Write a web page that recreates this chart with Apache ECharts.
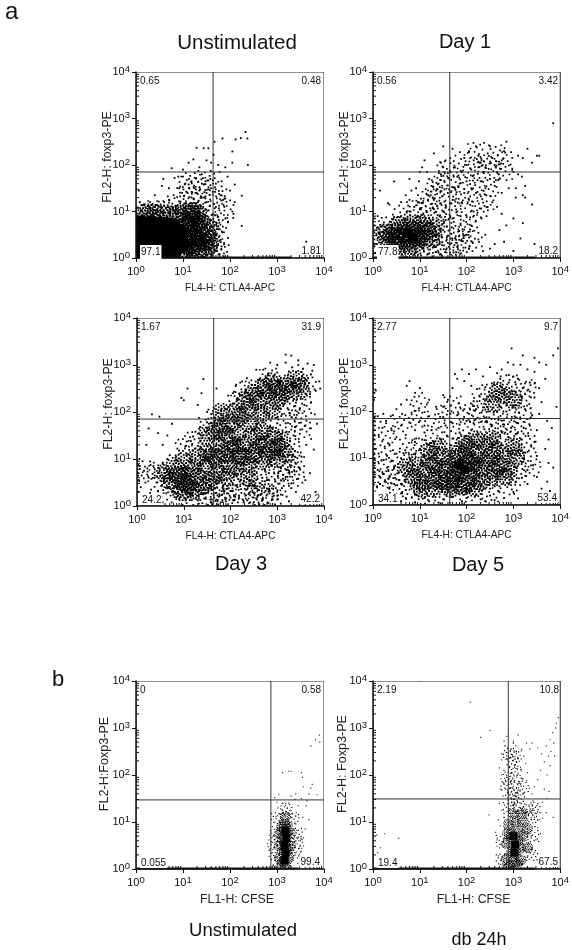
<!DOCTYPE html>
<html>
<head>
<meta charset="utf-8">
<style>html,body{margin:0;padding:0;background:#fff}#chart{width:572px;height:950px}</style>
<script src="https://cdn.jsdelivr.net/npm/echarts@6/dist/echarts.min.js"></script>
</head>
<body>
<div id="chart"></div>
<script>
// 所有坐标单位: 0.01 decade (0 = 10^0, 400 = 10^4), 格式 x,y,x,y...
const tickLabels = ['0', '1', '2', '3', '4']
const minorTicks = [30, 48, 60, 70, 78, 85, 90, 95, 130, 148, 160, 170, 178, 185, 190, 195, 230, 248, 260, 270, 278, 285, 290, 295, 330, 348, 360, 370, 378, 385, 390, 395]

const xNames = ['FL4-H: CTLA4-APC', 'FL4-H: CTLA4-APC', 'FL4-H: CTLA4-APC', 'FL4-H: CTLA4-APC', 'FL1-H: CFSE', 'FL1-H: CFSE']
const yNames = ['FL2-H: foxp3-PE', 'FL2-H: foxp3-PE', 'FL2-H: foxp3-PE', 'FL2-H: foxp3-PE', 'FL2-H:Foxp3-PE', 'FL2-H: Foxp3-PE']
const gateX = [164, 164, 164, 164, 287, 289]
const gateY = [185, 185, 185, 185, 147, 149]
const upperLeft = ['0.65', '0.56', '1.67', '2.77', '0', '2.19']
const upperRight = ['0.48', '3.42', '31.9', '9.7', '0.58', '10.8']
const lowerLeft = ['97.1', '77.8', '24.2', '34.1', '0.055', '19.4']
const lowerRight = ['1.81', '18.2', '42.2', '53.4', '99.4', '67.5']

// 堆在下边缘的事件 (x 起止)
const edgeRuns = [[0, 330], [0, 345], [0, 0], [0, 0], [0, 345], [0, 345]]

// 实心区域
const coreA = [10,12,10,38,10,70,32,12,32,38,32,70,54,10,54,38,54,68,76,14,76,40,74,66,92,30,90,52]
const coreB = [72,52,84,46]
const coreC = []
const coreD = [185,85,195,75]
const coreE = [316,18,318,34,316,50,320,66,318,82]
const coreF = [302,35,304,52,300,70]

// 一团事件的位置: 密 / 疏
const denseA = [122,30,122,60,122,85,140,20,140,45,140,70,118,100,100,100,70,96,40,96,15,96,132,95,108,70,108,45,108,22,120,15,152,50,155,25,100,15,100,40,100,60,100,80,115,30,115,55,115,75,125,45,130,20,135,55,145,35,135,80,118,95,90,95,55,98,25,98,150,65,160,35]
const sparseA = [155,35,155,60,170,25,170,50,160,85,178,75,120,125,140,130,105,135,85,115,60,105,30,105,130,155,150,170,165,150,110,165,175,130,150,105,190,110,150,10,180,10]
const denseB = [50,35,65,55,80,40,95,60,75,20,110,40,55,70,85,75,105,75,40,55,70,65,90,25,30,40,60,45,75,50,90,50,70,35,85,60,45,45,100,45,25,55,115,60,125,40,135,65,50,20]
const sparseB = [15,25,15,50,30,70,125,25,130,55,150,30,125,85,150,70,175,25,175,50,195,30,60,95,90,105,120,110,145,100,110,125,135,130,160,135,185,135,145,165,170,170,200,160,225,150,210,190,235,200,255,190,280,185,190,210,220,230,265,225,155,190,130,150,250,150,195,110,225,105,170,100,205,75,190,60,240,120,280,210,120,10,165,10,215,40]
const denseC = [200,175,220,190,240,210,260,225,280,240,300,250,320,260,340,270,300,225,330,245,230,130,250,150,270,160,290,150,270,130,250,110,290,120,310,140,220,105,240,90,270,95,300,100,80,85,100,95,120,80,95,65,110,45,130,105,60,70,70,55,150,85,170,70,150,115,175,130,190,150,200,120,195,90,130,60,160,105,215,150,240,175,265,195,190,60,180,200,210,200,230,225,250,240,270,255,290,265,310,240,350,255,290,205,150,150,165,160,180,170,170,100,190,110,210,130,230,105,260,130,280,110,300,125,320,110,240,60,210,80,100,50,85,65,115,65,140,45,120,35,95,30,160,55]
const sparseC = [150,20,175,25,200,30,225,25,250,20,275,25,130,30,100,30,85,45,200,55,230,60,260,55,300,40,320,65,340,100,355,160,170,190,150,170,120,140,215,225,250,250,350,245,365,260,355,215,325,210,345,180,320,175,40,75,55,45,20,70,100,125,150,45,170,40,330,125,290,70,225,245,280,275,70,25,115,20,190,15,240,40,265,35,290,20,310,80,330,90,340,60]
const denseD = [110,70,130,55,150,75,170,55,190,80,210,60,230,80,250,60,150,105,175,100,200,105,225,110,250,100,270,85,120,95,100,50,130,35,190,40,215,35,165,35,280,110,290,75,140,125,195,130,240,130,90,85,70,80,160,85,185,70,210,90,255,215,280,235,300,225,265,245,85,60,105,35,150,45,175,75,200,90,215,75,240,95,260,115,180,115,205,125,130,85,145,55,175,45,200,45,230,50,260,75,280,60,120,115,305,100,300,125,220,140,255,140]
const sparseD = [50,60,60,100,45,40,80,30,100,20,150,15,200,15,250,25,290,40,310,60,320,100,330,130,300,140,270,150,100,125,130,150,170,160,210,165,250,170,290,170,320,170,230,220,245,240,320,225,290,260,330,250,225,195,260,190,290,195,320,195,30,80,20,110,30,150,60,175,100,185,150,195,170,215,200,200,100,215,18,55,75,125,340,80]
const denseE = [315,15,315,35,318,55,318,75,316,95,305,25,325,25,305,50,328,50,305,75,328,75,318,110,312,65,322,42,310,88,322,90,318,8,308,8]
const sparseE = [295,30,298,70,340,35,342,75,300,108,335,108,320,128,292,55,345,55]
const denseF = [300,15,295,35,305,35,300,55,310,60,295,75,310,80,320,70,290,95,305,100,320,100,285,20,315,20,285,55,330,45,330,85,300,118,315,45,318,118,288,75,308,12,292,8]
const sparseF = [275,20,275,60,340,30,342,70,340,110,290,130,310,130,330,125,295,160,305,175,290,195,305,205,298,225,285,180,320,175,290,245,305,240,300,150,345,130,312,150]

// 单个事件
const midA = [118,85,125,72,132,60,128,40,138,30,145,50,150,72,142,88,155,38,160,58,166,25,170,48,175,68,162,12,172,15,180,34,184,55,118,20,126,10,135,15,148,8,155,20,112,12,120,100,108,96,96,95,84,98,72,94,60,98,48,92,36,96,22,94,10,100,4,108,8,120,16,90,112,78,130,96,140,78,148,104,158,80,168,92,176,82,150,120,138,112,128,118,116,112,104,108,118,130,128,140,140,130,120,5,140,4,160,4,178,8,108,6,128,28,138,48,146,20,152,90]
const dotA = [233,271,223,258,237,257,212,255,205,229,184,257,167,250,129,237,154,236,144,236,238,200,362,35,196,43,225,69,207,86,225,134,76,193,100,190,112,205,122,212,135,195,150,210,160,205,165,222,175,200,190,195,205,205,178,185,140,180,128,172,118,165,105,160,92,150,80,135,70,125,60,120,98,140,112,158,124,150,135,145,148,165,158,170,170,160,182,165,195,175,168,142,180,135,190,128,200,145,210,120,188,110,205,100,170,110,150,140,140,160,160,150,100,175,90,175,82,172,58,170,70,150,110,140,145,130,55,155,40,135,18,90,6,145,30,120,210,158,185,125,196,78,172,75,190,85,178,62,182,25]
const midB = [8,30,14,55,20,42,26,22,28,60,34,36,38,12,36,78,42,24,45,88,50,8,54,70,60,90,66,40,68,12,72,98,78,18,80,100,86,80,92,12,94,88,100,30,108,20,110,68,112,86,118,40,120,10,122,58,128,75,130,26,134,48,138,92,140,12,144,60,148,34,152,78,156,18,160,48,164,30,168,66,172,12,176,42,180,24,184,58,188,10,192,36,150,100,130,105,115,100,100,105,132,62,145,8,170,85,195,48,205,20,210,36,120,85,60,60,20,70,88,110,96,120,106,118]
const dotB = [3,10,3,25,3,40,3,55,3,70,3,85,8,65,10,90,32,118,15,145,45,165,78,170,35,115,60,120,70,135,78,125,82,145,92,150,98,165,100,185,105,195,110,210,115,185,120,170,125,155,118,135,130,125,135,145,140,160,145,180,150,195,155,210,130,225,145,205,150,240,165,215,170,235,175,195,180,175,185,160,160,140,175,150,190,185,195,215,200,200,205,230,210,190,215,210,220,240,225,220,230,205,235,185,240,195,245,225,250,240,255,215,260,200,265,185,270,170,275,210,280,230,285,250,225,195,228,205,232,210,234,200,215,178,200,165,210,150,220,140,195,140,205,125,230,165,240,150,250,170,260,155,275,140,290,150,300,185,310,220,320,215,330,235,340,205,350,220,310,180,318,175,305,150,325,155,320,135,325,130,340,115,355,220,305,130,300,85,320,75,385,290,315,42,270,60,280,35,260,30,240,50,220,80,190,120,170,125,180,100,155,108,165,90,200,88,210,70,225,40,200,50,245,110,255,120,265,110,275,95,285,70,215,100,232,85,250,20,235,15,300,15,345,30]
const midC = [300,300,318,305,332,295,345,310,355,292,365,303,375,288,340,285,280,278,300,284,315,272,325,286,335,275,345,270,352,285,362,268,372,280,262,268,278,262,292,274,305,262,318,266,328,258,338,262,348,252,358,258,366,272,380,248,245,258,258,252,272,264,285,248,296,255,308,245,318,250,326,242,334,252,342,240,350,246,358,232,370,238,232,248,246,242,258,235,270,246,282,232,294,240,304,228,314,236,322,222,332,232,340,220,350,228,362,238,225,235,240,228,252,222,264,232,276,218,288,226,300,212,312,218,324,205,336,212,348,205,358,215,215,225,228,218,240,212,252,205,266,215,280,198,296,206,310,195,326,198,340,188,205,218,218,208,232,200,246,208,258,190,272,198,286,182,300,188,318,176,338,168,190,206,204,198,216,190,228,180,242,192,256,175,270,182,285,168,300,176,320,158,180,196,194,188,208,178,222,170,236,182,250,160,265,170,280,150,295,158,310,145,335,150,165,188,178,178,190,170,205,160,218,172,232,150,246,162,262,140,278,150,292,135,308,142,325,130,150,178,162,168,175,160,188,150,200,162,214,140,228,150,242,130,256,142,270,125,286,132,300,118,316,125,332,108,135,168,150,160,165,150,180,142,192,152,206,130,220,140,234,118,248,130,262,110,276,120,290,102,304,112,320,95,340,90,125,158,140,150,155,142,170,130,184,140,196,120,210,130,224,105,238,118,252,95,266,105,280,88,294,98,308,80,325,75,120,148,135,138,150,128,165,118,178,128,192,108,206,118,218,92,232,102,246,82,260,92,274,75,288,85,302,70,318,62,345,58,115,138,130,128,145,118,160,108,174,118,188,96,200,105,214,80,228,90,240,72,254,82,268,60,282,70,296,52,312,58,330,48,105,128,120,118,135,108,150,98,165,105,180,85,194,95,208,68,222,78,236,58,250,68,264,48,278,55,292,42,310,38,90,118,108,110,125,100,140,90,155,95,170,72,185,82,198,58,212,65,226,48,240,55,254,38,268,45,284,32,300,22,70,108,85,98,100,88,115,95,130,80,145,72,160,82,175,60,190,70,205,45,220,52,235,35,250,42,265,25,282,30,300,14,65,100,78,88,90,78,102,68,114,100,126,70,140,60,155,65,170,48,185,55,200,32,215,40,232,22,250,28,268,15,290,20,55,90,66,78,76,68,86,60,96,52,106,45,116,40,128,50,142,35,156,42,170,28,185,35,200,18,218,22,236,12,255,16,48,80,60,70,70,58,80,50,90,42,100,35,110,28,120,35,132,20,146,26,160,14,175,20,190,10,208,12,228,8,250,8,45,70,58,60,68,48,78,38,88,30,98,22,108,18,118,24,130,12,144,16,158,8,172,10,60,50,70,38,80,28,92,18,104,12,65,40,75,30,88,22,100,35,114,28,130,30,148,28,165,18,182,24,196,38,210,20,226,14,240,28,258,22,275,32,300,30,330,38,320,20,290,14,325,10,350,18]
const dotC = [2,70,4,55,6,85,8,40,10,65,12,95,3,30,5,100,15,75,18,50,22,80,25,60,28,95,30,35,35,85,38,65,42,50,28,28,36,18,45,32,20,130,45,155,25,165,32,195,48,190,55,130,65,150,75,175,100,225,108,250,95,230,130,215,138,240,150,200,142,270,170,250,180,205,205,240,212,258,195,235,225,265,235,272,255,290,270,290,285,305,318,322,330,320,345,300,360,260,378,300,390,265,392,250,372,220,380,195,370,165,385,175,362,130,378,120,352,105,348,80,360,55,370,70,382,30,365,20,340,30]
const midD = [3,60,3,70,3,80,3,90,3,100,3,110,3,120,3,130,3,140,3,150,3,160,3,170,3,180,3,188,60,25,70,15,80,40,90,22,100,30,110,15,120,35,130,20,140,38,150,12,160,28,170,18,180,38,190,25,200,15,210,32,220,22,230,12,240,35,250,20,260,40,270,28,280,15,290,45,300,28,50,55,60,45,70,55,80,65,90,48,100,62,110,48,120,62,135,50,145,60,155,42,165,52,210,48,220,58,235,50,250,55,265,48,280,60,295,65,305,50,318,58,330,45,45,80,55,70,65,85,75,72,85,85,95,75,105,92,112,62,120,100,255,75,268,85,280,75,292,90,305,80,318,92,330,75,342,85,60,100,70,112,80,98,90,108,100,120,110,105,120,118,130,108,140,122,150,115,165,128,175,112,190,125,200,115,215,130,225,120,235,135,250,125,262,115,275,128,288,115,300,130,312,118,325,112,338,125,350,105,90,135,105,140,115,130,130,135,145,140,158,148,170,142,185,155,198,148,210,160,222,150,238,162,250,150,262,145,275,155,290,145,305,152,318,140,332,148,345,135,110,155,125,160,140,165,155,170,170,175,185,172,200,180,215,175,228,185,240,178,255,170,268,182,280,172,295,165,310,175,322,165,335,170,350,160,150,188,165,195,180,192,195,205,205,195,220,205,232,198,245,210,258,200,270,212,285,200,298,212,312,198,325,205,340,192,355,195,215,222,228,232,242,225,255,240,268,228,280,240,292,228,305,242,318,232,330,245,345,230,222,248,240,252,258,258,275,252,290,262,305,258,320,250,335,262,272,270,290,278,310,270,130,62,140,78,170,100,195,70,215,68,245,68,120,80,70,32,100,45,210,112,230,100,260,100,300,100,265,135,240,140,35,60,25,50,30,80,40,95,50,110,20,70,15,45,35,35,45,45,230,42,250,35,270,40,120,8,140,5,190,8,240,8]
const dotD = [8,40,10,75,12,110,15,60,18,95,22,140,25,125,30,105,35,130,12,150,20,165,28,175,40,160,50,145,60,170,70,150,80,175,90,160,100,180,110,170,120,190,130,175,140,195,150,210,10,190,16,178,28,180,38,190,22,195,50,205,62,195,72,225,60,215,80,215,72,255,78,265,90,240,105,240,100,250,120,225,115,215,135,210,150,235,160,225,170,250,175,280,180,270,190,290,195,265,205,280,210,255,220,290,235,275,250,295,265,282,275,290,288,305,300,275,315,300,330,290,345,285,355,305,345,315,320,320,296,335,300,300,325,260,345,260,355,250,368,270,370,300,385,320,395,335,360,220,372,180,392,210,375,140,382,165,368,120,375,90,385,80,372,50,360,35,378,30,2,225,3,240,6,245,130,125,350,60,20,10,30,20,50,12,60,8,260,10,310,14]
const midE = [302,12,304,30,300,50,306,66,305,84,332,20,330,40,334,58,332,76,328,92,310,106,322,106,316,115,305,100,296,25,294,45,338,35,340,60,336,85,292,8,300,4,325,4]
const dotE = [288,20,290,35,287,55,292,70,294,85,296,100,298,112,304,118,312,124,320,122,326,118,332,110,338,100,342,82,346,68,349,48,346,28,344,12,350,36,340,112,330,124,308,128,322,130,318,135,312,140,300,142,295,152,304,158,302,130,325,140,330,155,338,148,345,135,340,160,352,150,362,135,368,160,372,172,375,180,325,208,330,208,352,205,382,275,390,285,391,270,372,262,356,175,364,145,385,158,354,195,340,96,350,60,355,110,368,105,312,205,290,90,284,40,284,72,360,85]
const midF = [280,8,290,20,282,32,288,45,278,58,285,70,282,85,290,100,280,110,295,112,310,105,320,95,330,85,338,70,332,55,324,40,330,25,320,10,312,8,300,5,340,45,346,90,338,105,325,118,305,122,290,125,300,135,315,130,330,122,340,125,295,150,305,155,288,162,298,172,310,168,320,160,290,180,302,188,312,182,286,195,296,205,308,200,320,192,292,218,304,222,316,212,288,232,298,240,310,235,285,248,295,255,306,250,282,262,300,268]
const dotF = [272,10,268,28,270,45,265,62,262,78,272,92,268,105,275,125,270,140,278,155,272,170,280,180,275,200,270,215,275,232,275,245,280,272,286,282,300,272,310,285,305,262,318,255,322,240,326,225,330,205,328,188,334,172,340,160,342,145,350,135,348,118,355,105,352,88,348,62,345,35,350,20,358,75,362,108,362,142,345,175,352,190,358,210,366,170,372,150,376,165,372,200,378,220,366,228,360,245,352,258,370,262,378,275,384,290,390,300,392,310,396,322,386,268,380,250,388,240,375,240,248,115,335,255,230,280,208,355,100,400,55,65,25,75,16,45,10,35,8,72,345,110,370,120,385,110,340,268,328,268,280,210,250,295]

const panelCore = [coreA, coreB, coreC, coreD, coreE, coreF]
const panelDense = [denseA, denseB, denseC, denseD, denseE, denseF]
const panelSparse = [sparseA, sparseB, sparseC, sparseD, sparseE, sparseF]
const panelMid = [midA, midB, midC, midD, midE, midF]
const panelDot = [dotA, dotB, dotC, dotD, dotE, dotF]

const gridLeft = [136, 373, 137, 373, 136, 373]
const gridTop = [72, 72, 318, 318, 681, 681]
const gridWidth = [188, 188, 187, 188, 188, 189]
const gridHeight = [186, 186, 188, 187, 188, 188]
const coreSymbol = ['circle', 'rect', 'rect', 'rect', 'rect', 'rect']
const coreSize = [20, 8, 8, 8, 8, 8]
const denseSize = [18, 18, 18, 18, 11, 11]
const sparseSize = [18, 18, 18, 18, 12, 12]
const midSize = [1.9, 1.9, 1.9, 1.9, 1.3, 1.3]
const dotSize = [1.8, 1.8, 1.8, 1.8, 1.2, 1.2]
const dotColor = ['#000', '#000', '#000', '#000', '#333', '#333']
const yNameGap = [22, 22, 22, 22, 25, 24]

// 点团的形状 (16x16 单元内的小方块，去掉四角)
const denseCells = [3,0.5, 6,0, 9,1, 1,2.5, 4.5,2, 7.5,2.5, 10.5,3, 13,2.5, 0,5, 2.5,4.5, 6,4.5, 8.5,5, 11.5,5, 14,4.5, 1.5,7, 4,6.5, 6.5,7, 10,7, 12.5,7, 14,7.5, 0,9.5, 3,9, 5.5,9.5, 8,9, 11,9.5, 13.5,10, 1.5,11.5, 4.5,11.5, 7,11.5, 9.5,11.5, 12,12, 3,13.5, 6,14, 8.5,14]
const sparseCells = [0,1, 5,0, 11,1.5, 14.5,0, 2.5,5, 8,4, 13,6, 0,9, 6,8, 10,10, 14.5,11, 3,13, 8,14.5, 12,14]

function cellsToPath(cells, size) {
  let d = 'path://'
  for (let i = 0; i < cells.length; i += 2) d += `M${cells[i]} ${cells[i + 1]}h${size}v${size}h-${size}z`
  return d
}

const fontName = '"Liberation Sans", Arial, sans-serif'

function toPairs(flat) {
  const out = []
  for (let i = 0; i < flat.length; i += 2) out.push([flat[i], flat[i + 1]])
  return out
}

const option = { animation: false, grid: [], xAxis: [], yAxis: [], series: [], graphic: [] }

function labelStyle() {
  return {
    fontSize: 11,
    color: '#111',
    fontFamily: fontName,
    hideOverlap: false,
    showMinLabel: true,
    showMaxLabel: true,
    formatter: (v) => `{b|10}{s|${tickLabels[v / 100]}}`,
    rich: {
      b: { fontSize: 11, fontFamily: fontName, color: '#111' },
      s: { fontSize: 9.5, fontFamily: fontName, color: '#111', padding: [0, 0, 6, 0] }
    }
  }
}

function addText(text, x, y, size, align, style) {
  option.graphic.push({
    type: 'text',
    x,
    y,
    z: 50,
    style: Object.assign({
      text,
      fontSize: size,
      fontFamily: fontName,
      fill: '#111',
      textAlign: align,
      textVerticalAlign: 'middle'
    }, style || {})
  })
}

// 点团会超出绘图区，用白框盖住，坐标轴放在白框之上
function addMask(x, y, width, height) {
  option.graphic.push({ type: 'rect', z: 3, silent: true, shape: { x, y, width, height }, style: { fill: '#fff' } })
}

xNames.forEach((xName, i) => {
  const big = i >= 4
  option.grid.push({
    left: gridLeft[i], top: gridTop[i], width: gridWidth[i], height: gridHeight[i],
    show: true, borderColor: '#222', borderWidth: 1, backgroundColor: '#fff'
  })
  option.xAxis.push({
    type: 'value', gridIndex: i, min: 0, max: 400, interval: 100, z: 6,
    name: xName, nameLocation: 'middle', nameGap: 25, nameMoveOverlap: false,
    nameTextStyle: { fontSize: big ? 12.3 : 10.2, fontFamily: fontName, color: '#222', padding: big ? [0, 0, 0, 14] : 0 },
    axisLine: { onZero: false, lineStyle: { color: '#111', width: 1.5 } },
    axisTick: { length: 4, lineStyle: { color: '#111' } },
    splitLine: { show: false },
    axisLabel: Object.assign(labelStyle(), { margin: 6 })
  })
  option.yAxis.push({
    type: 'value', gridIndex: i, min: 0, max: 400, interval: 100, z: 6,
    name: yNames[i], nameLocation: 'middle', nameGap: yNameGap[i], nameMoveOverlap: false,
    nameTextStyle: { fontSize: big ? 12.6 : 12.3, fontFamily: fontName, color: '#222', padding: [0, 0, 0, big ? 22 : 16] },
    axisLine: { onZero: false, lineStyle: { color: '#111', width: 1.5 } },
    axisTick: { length: 4, lineStyle: { color: '#111' } },
    splitLine: { show: false },
    axisLabel: Object.assign(labelStyle(), { margin: 6 })
  })

  const common = { type: 'scatter', xAxisIndex: i, yAxisIndex: i, silent: true, z: 2 }
  const black = { color: '#000', opacity: 1 }
  const turn = (v, p) => [0, 90, 180, 270][p.dataIndex % 4]
  option.series.push(Object.assign({}, common, { data: toPairs(panelCore[i]), symbol: coreSymbol[i], symbolSize: coreSize[i], itemStyle: black }))
  option.series.push(Object.assign({}, common, {
    data: toPairs(panelDense[i]), symbol: cellsToPath(denseCells, 1.5), symbolSize: denseSize[i], symbolRotate: turn, itemStyle: black
  }))
  option.series.push(Object.assign({}, common, {
    data: toPairs(panelSparse[i]), symbol: cellsToPath(sparseCells, 1.5), symbolSize: sparseSize[i], symbolRotate: turn, itemStyle: black
  }))
  option.series.push(Object.assign({}, common, { data: toPairs(panelMid[i]), symbol: 'rect', symbolSize: midSize[i], itemStyle: black }))
  option.series.push(Object.assign({}, common, {
    data: toPairs(panelDot[i]), symbol: 'rect', symbolSize: dotSize[i], itemStyle: { color: dotColor[i], opacity: 1 }
  }))

  // 象限线
  const lineCommon = { type: 'line', xAxisIndex: i, yAxisIndex: i, symbol: 'none', silent: true, lineStyle: { color: '#333', width: 1 }, z: 4 }
  option.series.push(Object.assign({}, lineCommon, { data: [[gateX[i], 0], [gateX[i], 400]] }))
  option.series.push(Object.assign({}, lineCommon, { data: [[0, gateY[i]], [400, gateY[i]]] }))
  // 堆在下边缘的事件
  if (edgeRuns[i][1] > 0) {
    option.series.push(Object.assign({}, lineCommon, {
      data: [[edgeRuns[i][0], 1], [edgeRuns[i][1], 1]],
      lineStyle: { color: '#111', width: 2 }
    }))
  }
  // 对数小刻度
  option.series.push(Object.assign({}, common, {
    data: minorTicks.map((v) => [v, 0]), symbol: 'rect', symbolSize: [1, 3], symbolOffset: [0, -1.5],
    itemStyle: { color: '#111', opacity: 1 }, z: 5
  }))
  option.series.push(Object.assign({}, common, {
    data: minorTicks.map((v) => [0, v]), symbol: 'rect', symbolSize: [3, 1], symbolOffset: [1.5, 0],
    itemStyle: { color: '#111', opacity: 1 }, z: 5
  }))

  const l = gridLeft[i], t = gridTop[i], r = l + gridWidth[i], b = t + gridHeight[i]
  addMask(l - 11, t - 11, 11, gridHeight[i] + 22)
  addMask(r, t - 11, 11, gridHeight[i] + 22)
  addMask(l, t - 11, gridWidth[i], 11)
  addMask(l, b, gridWidth[i], 11)

  // 象限百分比
  const labelBox = { backgroundColor: '#fff', padding: i < 2 ? [2, 1, 2, 1] : [0, 1, 0, 1] }
  addText(upperLeft[i], l + 4, t + 9, 10, 'left')
  addText(upperRight[i], r - 3, t + 9, 10, 'right')
  addText(lowerLeft[i], l + 4, b - 6, 10, 'left', labelBox)
  addText(lowerRight[i], r - 3, b - 7, 10, 'right', i < 2 ? null : { backgroundColor: '#fff', padding: [0, 1, 0, 1] })
})

addText('a', 5, 12, 24, 'left')
addText('b', 52, 680, 22, 'left')
addText('Unstimulated', 237, 43, 20.5, 'center')
addText('Day 1', 465, 42, 20, 'center')
addText('Day 3', 241, 564, 20, 'center')
addText('Day 5', 478, 565, 20, 'center')
addText('Unstimulated', 243, 931, 18.5, 'center')
addText('db 24h', 479, 940, 18, 'center')

const chart = echarts.init(document.getElementById('chart'))
chart.setOption(option)
</script>
</body>
</html>
